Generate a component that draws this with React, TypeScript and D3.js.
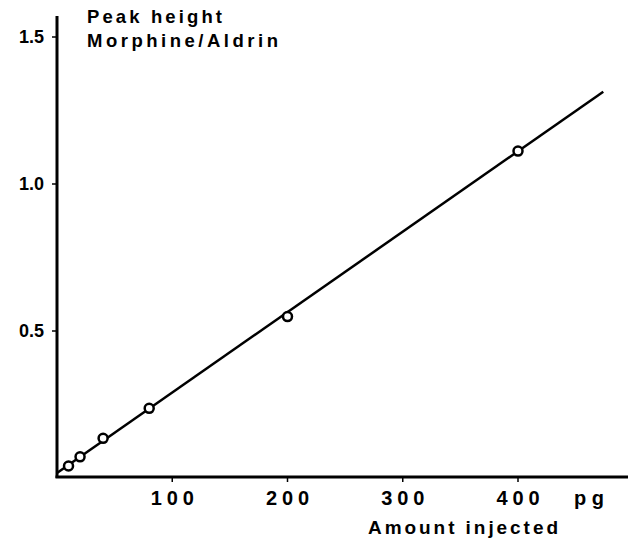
import React from "react";
import * as d3 from "d3";

const amounts = [10, 20, 40, 80, 200, 400];
const ratios = [0.041, 0.072, 0.135, 0.237, 0.549, 1.112];
const fitX = [0, 474];
const fitY = [0.017, 1.314];
const xTicks = [100, 200, 300, 400];
const yTicks = [0.5, 1.0, 1.5];
const yTickLabels = ["0.5", "1.0", "1.5"];

const W = 630;
const H = 547;
const font = "'Liberation Sans', Arial, sans-serif";

export default function App() {
  const x = d3.scaleLinear().domain([0, 400]).range([57, 518]);
  const y = d3.scaleLinear().domain([0, 1.5]).range([478, 37]);
  const line = d3
    .line<number>()
    .x((d) => x(d))
    .y((_, i) => y(fitY[i]));
  const x0 = x(0);
  const y0 = y(0);
  return (
    <svg
      width={W}
      height={H}
      style={{ position: "absolute", left: 0, top: 0, background: "#fff" }}
    >
      {/* axes */}
      <line x1={x0} x2={x0} y1={16} y2={y0} stroke="#000" strokeWidth={3} />
      <line x1={x0 - 1.5} x2={628} y1={y0 - 1} y2={y0 - 1} stroke="#000" strokeWidth={3} />
      {xTicks.map((t) => (
        <g key={t}>
          <line x1={x(t)} x2={x(t)} y1={y0} y2={y0 + 4} stroke="#000" strokeWidth={1.5} />
          <text
            x={x(t)}
            y={505}
            textAnchor="middle"
            fontFamily={font}
            fontWeight="bold"
            fontSize={20}
            textLength={43}
            lengthAdjust="spacing"
          >
            {String(t)}
          </text>
        </g>
      ))}
      {yTicks.map((t, i) => (
        <g key={t}>
          <line x1={x0 - 5} x2={x0} y1={y(t)} y2={y(t)} stroke="#000" strokeWidth={1.5} />
          <text
            x={44}
            y={y(t) + 6}
            textAnchor="end"
            fontFamily={font}
            fontWeight="bold"
            fontSize={18}
          >
            {yTickLabels[i]}
          </text>
        </g>
      ))}
      <text x={574} y={505} fontFamily={font} fontWeight="bold" fontSize={20} textLength={30} lengthAdjust="spacing">
        pg
      </text>
      <text x={368} y={534} fontFamily={font} fontWeight="bold" fontSize={19} textLength={190} lengthAdjust="spacing">
        Amount injected
      </text>
      <text x={87} y={23} fontFamily={font} fontWeight="bold" fontSize={18.5} textLength={135} lengthAdjust="spacing">
        Peak height
      </text>
      <text x={87} y={47} fontFamily={font} fontWeight="bold" fontSize={18.5} textLength={191} lengthAdjust="spacing">
        Morphine/Aldrin
      </text>
      {/* fit line */}
      <path d={line(fitX) || ""} fill="none" stroke="#000" strokeWidth={2.5} />
      {/* points */}
      {amounts.map((a, i) => (
        <circle
          key={a}
          cx={x(a)}
          cy={y(ratios[i])}
          r={4.5}
          fill="#fff"
          stroke="#000"
          strokeWidth={2.5}
        />
      ))}
    </svg>
  );
}
